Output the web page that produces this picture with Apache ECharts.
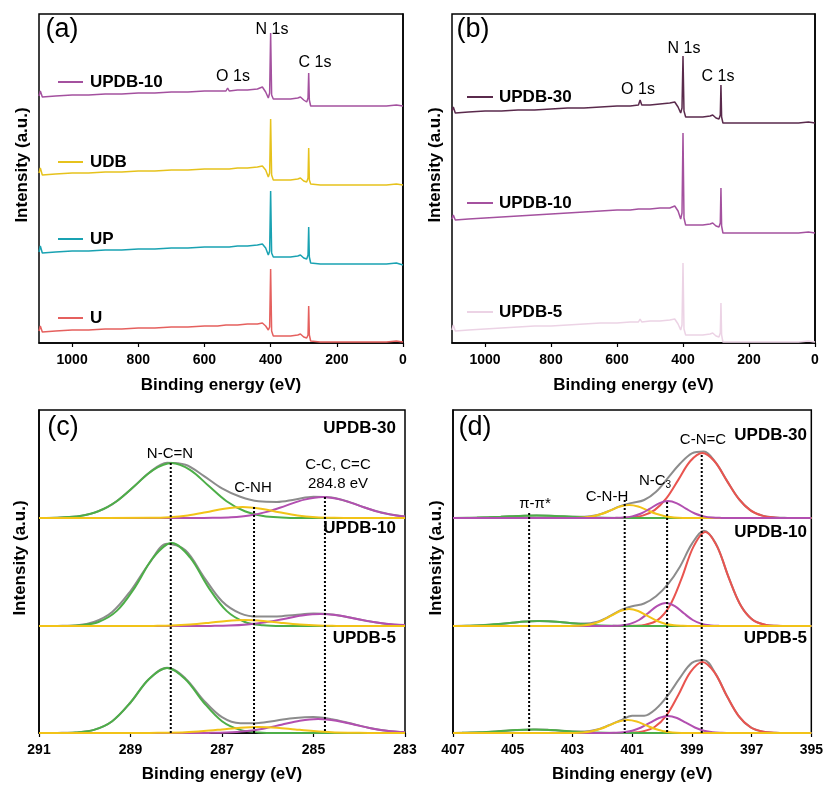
<!DOCTYPE html>
<html><head><meta charset="utf-8">
<script src="https://cdn.jsdelivr.net/npm/echarts/dist/echarts.min.js"></script>
<style>html,body{margin:0;padding:0;background:#fff}#c{width:826px;height:785px}</style>
</head><body><div id="c"></div>
<script>
// ---------- Survey spectra (a), (b) ----------
const surveyX = [1100,1096,1090,1050,1000,950,900,850,800,750,700,650,600,560,535,530,525,500,470,440,425,415,407,403,400,397,392,370,340,318,310,300,291,287,285,283,279,250,200,150,100,50,20,15,0];
const aU      = [12,17,11,12,13,13,14,14,15,15,16,16,17,17,18,20,18,18,19,19,20,17,13,16,74,12,7,7,7,8,9,6,5,8,37,8,2,1,1,1,1,1,2,1,1];
const aUP     = [91,97,90,91,92,92,93,93,94,94,95,95,96,96,96,97,96,97,97,98,99,95,88,92,152,90,86,86,86,87,88,85,84,88,116,86,80,79,79,79,79,79,80,79,78];
const aUDB    = [170,175,168,169,170,170,171,171,172,172,173,173,174,174,174,175,174,175,175,176,177,173,166,170,224,168,163,163,163,164,165,162,161,165,195,163,159,158,158,158,158,158,159,158,158];
const aUPDB10 = [247,252,246,247,248,248,249,249,250,250,251,251,252,252,252,255,252,253,253,254,256,251,245,250,310,248,244,244,244,245,246,243,241,245,270,243,237,237,237,237,237,237,238,237,237];
const bUPDB30 = [232,236,230,231,232,232,233,233,234,235,235,236,237,237,238,243,238,238,239,240,241,236,230,235,287,232,226,226,226,227,228,225,224,228,258,226,220,220,220,220,220,220,221,220,220];
const bUPDB10 = [124,128,123,124,125,126,127,128,129,130,131,132,133,133,134,136,134,134,135,135,137,132,124,130,210,125,118,118,118,119,120,117,116,120,155,117,110,110,110,110,110,110,111,110,110];
const bUPDB5  = [13,18,12,13,14,15,16,17,17,18,19,20,20,21,21,24,21,22,22,23,24,19,13,18,80,14,8,8,8,9,10,7,6,10,40,8,1,1,1,1,1,1,2,1,1];

// ---------- C 1s (c) ----------
const cOffsets = [215, 107, 0]; // UPDB-30, UPDB-10, UPDB-5
const cGreen30  = [[291,0],[290.5,0.5],[290.1,2.0],[289.7,6.7],[289.3,16.8],[288.9,32.5],[288.5,48.2],[288.1,55],[287.7,48.2],[287.3,32.5],[286.9,16.8],[286.5,6.7],[286.1,2.0],[285.7,0.5],[285.3,0],[283,0]];
const cYellow30 = [[291,0],[288.55,0.2],[288.15,0.8],[287.75,2.5],[287.35,5.7],[286.95,9.3],[286.55,11],[286.15,9.3],[285.75,5.7],[285.35,2.5],[284.95,0.8],[284.55,0.2],[284.1,0],[283,0]];
const cPurple30 = [[291,0],[287.6,0],[287.2,0.2],[286.8,0.8],[286.4,2.6],[286.0,6.4],[285.6,12.4],[285.2,18.4],[284.8,21],[284.4,18.4],[284.0,12.4],[283.6,6.4],[283.2,2.6],[283,1.6]];
const cGreen10  = [[291,0],[290.5,0],[290.1,0.7],[289.7,4.0],[289.3,15.1],[288.9,38.9],[288.5,68.6],[288.1,83],[287.7,68.6],[287.3,38.9],[286.9,15.1],[286.5,4.0],[286.1,0.7],[285.7,0],[283,0]];
const cYellow10 = [[291,0],[288.9,0],[288.5,0.1],[288.1,0.4],[287.7,1.4],[287.3,3.1],[286.9,5.1],[286.5,6],[286.1,5.1],[285.7,3.1],[285.3,1.4],[284.9,0.4],[284.5,0.1],[284.1,0],[283,0]];
const cPurple10 = [[291,0],[287.65,0],[287.25,0.1],[286.85,0.4],[286.45,1.5],[286.05,3.7],[285.65,7.1],[285.25,10.5],[284.85,12],[284.45,10.5],[284.05,7.1],[283.65,3.7],[283.25,1.5],[283,0.9]];
const cGreen5   = [[291,0],[290.6,0],[290.2,0.6],[289.8,3.1],[289.4,11.8],[289.0,30.5],[288.6,53.8],[288.2,65],[287.8,53.8],[287.4,30.5],[287.0,11.8],[286.6,3.1],[286.2,0.6],[285.8,0],[283,0]];
const cYellow5  = [[291,0],[289.0,0],[288.6,0.1],[288.2,0.3],[287.8,0.8],[287.4,2.0],[287.0,3.6],[286.6,5.3],[286.2,6],[285.8,5.3],[285.4,3.6],[285.0,2.0],[284.6,0.8],[284.2,0.3],[283.8,0.1],[283.4,0],[283,0]];
const cPurple5  = [[291,0],[287.7,0],[287.3,0.1],[286.9,0.5],[286.5,1.7],[286.1,4.3],[285.7,8.3],[285.3,12.3],[284.9,14],[284.5,12.3],[284.1,8.3],[283.7,4.3],[283.3,1.7],[283,0.8]];
const cGrayX  = [291,290.6,290.2,289.8,289.4,289.0,288.6,288.2,287.8,287.4,287.0,286.6,286.2,285.8,285.4,285.0,284.6,284.2,283.8,283.4,283.0];
const cGray30 = [0,0.3,1.5,5.1,13.7,28.3,45.0,55.3,53.3,42.2,29.6,21.2,16.7,16.1,18.6,21.2,20.5,15.6,9.2,4.2,1.5];
const cGray10 = [0,0.1,0.4,4,14,35,62,82.3,75.7,49.2,24.8,12.7,9.4,9.5,11.1,12.4,11.6,8.5,4.8,2.1,0.7];
const cGray5  = [0,0.1,0.6,3.1,11.8,30.5,53.8,65.3,54.6,32.6,15.8,9.7,10.1,12.6,15.0,15.9,13.8,9.7,5.3,2.2,0.7];
const cMarkX   = [288.12, 286.3, 284.75];
const cMarkTop = [270, 226, 236];

// ---------- N 1s (d) ----------
const dOffsets = [215, 107, 0];
const dRed30    = [[407,0],[401.5,0],[401.05,0.6],[400.65,2.4],[400.25,7.9],[399.85,19.9],[399.45,38.4],[399.05,57],[398.65,65],[398.25,57],[397.85,38.4],[397.45,19.9],[397.05,7.9],[396.65,2.4],[396.25,0.6],[395.8,0],[395,0]];
const dPurple30 = [[407,0],[401.9,0],[401.6,0.1],[401.3,0.4],[401.0,1.6],[400.7,4.5],[400.4,9.4],[400.1,14.7],[399.8,17],[399.5,14.7],[399.2,9.4],[398.9,4.5],[398.6,1.6],[398.3,0.4],[398.0,0.1],[397.7,0],[395,0]];
const dYellow30 = [[407,0],[403.2,0],[402.9,0.1],[402.6,0.6],[402.3,1.8],[402.0,4.2],[401.7,7.9],[401.4,11.5],[401.1,13],[400.8,11.5],[400.5,7.9],[400.2,4.2],[399.9,1.8],[399.6,0.6],[399.3,0.1],[399.0,0],[395,0]];
const dGreen30  = [[407,0],[406.2,0.4],[405.4,1.2],[404.8,2.1],[404.2,2.5],[403.6,2.1],[403.0,1.2],[402.2,0.4],[401.2,0],[395,0]];
const dRed10    = [[407,0],[401.4,0],[400.95,0.2],[400.55,1.3],[400.15,5.9],[399.75,19.8],[399.35,47.1],[398.95,79.1],[398.55,94],[398.15,79.1],[397.75,47.1],[397.35,19.8],[396.95,5.9],[396.55,1.3],[396.15,0.2],[395.7,0],[395,0]];
const dPurple10 = [[407,0],[401.97,0],[401.67,0.1],[401.37,0.6],[401.07,2.1],[400.77,6.0],[400.47,12.7],[400.17,19.8],[399.87,23],[399.57,19.8],[399.27,12.7],[398.97,6.0],[398.67,2.1],[398.37,0.6],[398.07,0.1],[397.77,0],[395,0]];
const dYellow10 = [[407,0],[403.2,0],[402.9,0.2],[402.6,0.7],[402.3,2.3],[402.0,5.5],[401.7,10.3],[401.4,15.0],[401.1,17],[400.8,15.0],[400.5,10.3],[400.2,5.5],[399.9,2.3],[399.6,0.7],[399.3,0.2],[399.0,0],[395,0]];
const dGreen10  = [[407,0],[406.5,0.3],[405.9,1.0],[405.3,2.4],[404.7,4.2],[404.1,5],[403.5,4.2],[402.9,2.4],[402.3,1.0],[401.7,0.3],[401.0,0],[395,0]];
const dRed5     = [[407,0],[401.5,0],[401.05,0.3],[400.65,1.5],[400.25,6.0],[399.85,17.7],[399.45,38.3],[399.05,60.8],[398.65,71],[398.25,60.8],[397.85,38.3],[397.45,17.7],[397.05,6.0],[396.65,1.5],[396.25,0.3],[395.8,0],[395,0]];
const dPurple5  = [[407,0],[401.9,0],[401.6,0.2],[401.3,0.7],[401.0,2.3],[400.7,5.5],[400.4,10.3],[400.1,15.0],[399.8,17],[399.5,15.0],[399.2,10.3],[398.9,5.5],[398.6,2.3],[398.3,0.7],[398.0,0.2],[397.7,0],[395,0]];
const dYellow5  = [[407,0],[403.25,0],[402.95,0.1],[402.65,0.6],[402.35,1.8],[402.05,4.2],[401.75,7.9],[401.45,11.5],[401.15,13],[400.85,11.5],[400.55,7.9],[400.25,4.2],[399.95,1.8],[399.65,0.6],[399.35,0.1],[399.05,0],[395,0]];
const dGreen5   = [[407,0],[406.7,0.2],[406.1,0.7],[405.5,1.7],[404.9,2.9],[404.3,3.5],[403.7,2.9],[403.1,1.7],[402.5,0.7],[401.9,0.2],[401.2,0],[395,0]];
const dGrayX  = [407,406.6,406.2,405.8,405.4,405.0,404.6,404.2,403.8,403.4,403.0,402.6,402.2,401.8,401.4,401.0,400.6,400.2,399.8,399.4,399.0,398.6,398.2,397.8,397.4,397.0,396.6,396.2,395.8,395.4,395.0];
const dGray30 = [0.1,0.1,0.3,0.7,1.2,1.8,2.3,2.5,2.3,1.8,1.3,1.3,2.7,6.7,11.9,15.1,18.0,26.3,40.1,54.2,64.7,66.5,55.3,35.9,18.0,6.9,2.1,0.5,0.1,0,0];
const dGray10 = [0.1,0.2,0.6,1.2,2.1,3.3,4.4,5.0,4.8,3.9,2.8,2.4,4.0,9.0,15.6,19.7,22.5,29.7,41.8,59.3,82.1,95.3,82.5,51.2,22.5,7.0,1.5,0.2,0,0,0];
const dGray5  = [0.1,0.3,0.6,1.1,1.9,2.7,3.3,3.5,3.1,2.3,1.6,1.5,3.2,7.5,12.5,17.2,17.3,24.3,37.8,55.1,70.1,73.1,58.9,35.4,15.7,5.1,1.2,0.2,0,0,0];
const dMarkX   = [404.45, 401.25, 399.83, 398.67];
const dMarkTop = [220, 233, 231, 278];

// ---------- build ----------
const FONT = 'Liberation Sans, Arial, sans-serif';
const COL = {green:'#4dae48', yellow:'#f2c318', purple:'#b24fb0', gray:'#8c8c8c', red:'#e9544f'};
const zip = (xs, ys) => xs.map((x,i)=>[x, ys[i]]);
const shift = (pts, off) => pts.map(p=>[p[0], p[1]+off]);

function line(idx, data, color, width, smooth) {
  return {type:'line', xAxisIndex:idx, yAxisIndex:idx, data, showSymbol:false, symbol:'none',
    smooth: smooth ? 0.35 : false, silent:true, animation:false, clip:true,
    lineStyle:{color, width}};
}
function dotted(idx, x, top) {
  return {type:'line', xAxisIndex:idx, yAxisIndex:idx, data:[[x,top],[x,0]], symbol:'none', silent:true, animation:false,
    lineStyle:{color:'#000', width:2, type:[2,2]}, z:5};
}

const series = [];
[[aU,'#e5605e'],[aUP,'#19a2b2'],[aUDB,'#e6c21c'],[aUPDB10,'#a4519f']].forEach(([ys,c])=>series.push(line(0, zip(surveyX, ys), c, 1.5, false)));
[[bUPDB30,'#5a2a4c'],[bUPDB10,'#a4519f'],[bUPDB5,'#ecd3e5']].forEach(([ys,c])=>series.push(line(1, zip(surveyX, ys), c, 1.5, false)));
const cSets = [[cGray30,cGreen30,cPurple30,cYellow30],[cGray10,cGreen10,cPurple10,cYellow10],[cGray5,cGreen5,cPurple5,cYellow5]];
cSets.forEach((s,i)=>{
  const off = cOffsets[i];
  series.push(line(2, shift(zip(cGrayX, s[0]), off), COL.gray, 2, true));
  series.push(line(2, shift(s[1], off), COL.green, 2, true));
  series.push(line(2, shift(s[2], off), COL.purple, 2, true));
  series.push(line(2, shift(s[3], off), COL.yellow, 2, true));
});
cMarkX.forEach((x,i)=>series.push(dotted(2, x, cMarkTop[i])));
const dSets = [[dGray30,dRed30,dGreen30,dYellow30,dPurple30],[dGray10,dRed10,dGreen10,dPurple10,dYellow10],[dGray5,dRed5,dGreen5,dPurple5,dYellow5]];
const dCols = [[COL.gray,COL.red,COL.green,COL.yellow,COL.purple],[COL.gray,COL.red,COL.green,COL.purple,COL.yellow],[COL.gray,COL.red,COL.green,COL.purple,COL.yellow]];
dSets.forEach((s,i)=>{
  const off = dOffsets[i];
  series.push(line(3, shift(zip(dGrayX, s[0]), off), dCols[i][0], 2, true));
  for (let k=1;k<5;k++) series.push(line(3, shift(s[k], off), dCols[i][k], 2, true));
});
dMarkX.forEach((x,i)=>series.push(dotted(3, x, dMarkTop[i])));

const grids = [
  {left:39, top:14, width:364, height:329},
  {left:452, top:14, width:363, height:329},
  {left:39, top:410, width:366, height:323},
  {left:453, top:410, width:360, height:323}
].map(g=>Object.assign(g,{show:true, borderColor:'#000', borderWidth:1.5, backgroundColor:'transparent', containLabel:false}));

const xRanges = [[0,1100,200],[0,1100,200],[283,291,2],[395,407,2]];
const xAxes = xRanges.map((r,i)=>({
  type:'value', gridIndex:i, min:r[0], max:r[1], interval:r[2], inverse:true,
  name:'Binding energy (eV)', nameLocation:'middle', nameGap: i<2 ? 34 : 33,
  nameTextStyle:{fontFamily:FONT, fontSize:17, fontWeight:'bold', color:'#000'},
  axisLine:{show:true, lineStyle:{color:'#000', width:1.5}},
  axisTick:{show:true, length:4, lineStyle:{color:'#000', width:1.2}},
  axisLabel:{fontFamily:FONT, fontSize:14, fontWeight:'bold', color:'#000', margin:10,
    showMaxLabel: i<2 ? false : true, showMinLabel:true, formatter:(v)=>String(v)},
  splitLine:{show:false}
}));
const yAxes = [0,1,2,3].map(i=>({
  type:'value', gridIndex:i, min:0, max: i<2 ? 329 : 323,
  axisLine:{show:true, lineStyle:{color:'#000', width:1.5}},
  axisTick:{show:false}, axisLabel:{show:false}, splitLine:{show:false}
}));

function txt(x, y, text, opts) {
  opts = opts || {};
  return {type:'text', x, y, rotation: opts.rot||0, silent:true, z:100, style:Object.assign({
    text, fill:'#000', font:(opts.bold?'bold ':'') + (opts.size||16) + 'px ' + FONT,
    textAlign: opts.align||'center', textVerticalAlign:'middle'}, opts.extra||{})};
}
function seg(x1, x2, y, color) {
  return {type:'line', silent:true, z:100, shape:{x1, y1:y, x2, y2:y}, style:{stroke:color, lineWidth:2}};
}
const YT = 'Intensity (a.u.)';
const graphic = [
  txt(22,165,YT,{bold:true,size:17,rot:Math.PI/2}), txt(435,165,YT,{bold:true,size:17,rot:Math.PI/2}),
  txt(20,558,YT,{bold:true,size:17,rot:Math.PI/2}), txt(436,558,YT,{bold:true,size:17,rot:Math.PI/2}),
  txt(62,30,'(a)',{size:27}), txt(272,30,'N 1s'), txt(233,77,'O 1s'), txt(315,63,'C 1s'),
  seg(58,83,82,'#a4519f'), txt(90,82,'UPDB-10',{bold:true,size:17,align:'left'}),
  seg(58,83,162,'#e6c21c'), txt(90,162,'UDB',{bold:true,size:17,align:'left'}),
  seg(58,83,239,'#19a2b2'), txt(90,239,'UP',{bold:true,size:17,align:'left'}),
  seg(58,83,318,'#e5605e'), txt(90,318,'U',{bold:true,size:17,align:'left'}),
  txt(473,30,'(b)',{size:27}), txt(684,49,'N 1s'), txt(718,77,'C 1s'), txt(638,90,'O 1s'),
  seg(467,493,97,'#5a2a4c'), txt(499,97,'UPDB-30',{bold:true,size:17,align:'left'}),
  seg(467,493,203,'#a4519f'), txt(499,203,'UPDB-10',{bold:true,size:17,align:'left'}),
  seg(467,493,312,'#ecd3e5'), txt(499,312,'UPDB-5',{bold:true,size:17,align:'left'}),
  txt(63,428,'(c)',{size:27}), txt(396,428,'UPDB-30',{bold:true,size:17,align:'right'}),
  txt(170,454,'N-C=N',{size:15}), txt(253,488,'C-NH',{size:15}),
  txt(338,465,'C-C, C=C',{size:15}), txt(338,484,'284.8 eV',{size:15}),
  txt(396,528,'UPDB-10',{bold:true,size:17,align:'right'}), txt(396,638,'UPDB-5',{bold:true,size:17,align:'right'}),
  txt(475,428,'(d)',{size:27}), txt(703,440,'C-N=C',{size:15}),
  txt(807,435,'UPDB-30',{bold:true,size:17,align:'right'}),
  txt(655,481,'{a|N-C}{s|3}',{size:15, extra:{rich:{a:{font:'15px '+FONT, fill:'#000'}, s:{font:'10px '+FONT, fill:'#000', padding:[8,0,0,0]}}}}),
  txt(607,497,'C-N-H',{size:15}), txt(535,504,'π-π*',{size:15}),
  txt(807,532,'UPDB-10',{bold:true,size:17,align:'right'}), txt(807,638,'UPDB-5',{bold:true,size:17,align:'right'})
];

const chart = echarts.init(document.getElementById('c'), null, {renderer:'canvas'});
chart.setOption({animation:false, backgroundColor:'#fff', grid:grids, xAxis:xAxes, yAxis:yAxes, series, graphic});
</script></body></html>
